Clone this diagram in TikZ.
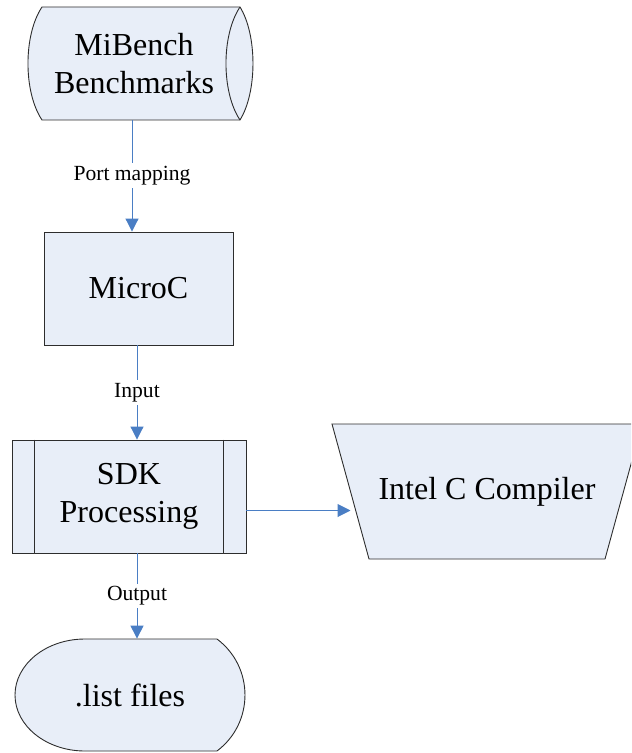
\documentclass[tikz,border=0pt]{standalone}
\usepackage{fontspec}
\setmainfont{Liberation Serif}
\usetikzlibrary{arrows.meta}
\definecolor{boxfill}{RGB}{232,238,248}
\definecolor{flowblue}{RGB}{74,126,196}
\definecolor{edgegray}{RGB}{45,45,45}

\begin{document}
\begin{tikzpicture}[x=0.5pt, y=-0.5pt,
		shp/.style={draw=edgegray, fill=boxfill, line width=0.45pt},
		txt/.style={inner sep=0pt, align=center, font=\fontsize{16}{19}\selectfont},
		flow/.style={draw=flowblue, line width=0.5pt, -{Triangle[length=6.5pt,width=6.5pt]}},
		lbl/.style={fill=white, inner sep=1.5pt, font=\fontsize{10.8}{12}\selectfont}]
	\useasboundingbox (0,0) rectangle (631,753);
	\clip (0,0) rectangle (631,753);
	
	% benchmarks
	\filldraw[shp] (42,7) -- (240,7) .. controls (257.3,35) and (257.3,92) .. (240,120)
		-- (42,120) .. controls (23.3,92) and (23.3,35) .. cycle;
	\draw[shp, fill=none] (240,7) .. controls (221.3,35) and (221.3,92) .. (240,120);
	\node[txt, minimum width=106pt, minimum height=56.5pt] (bench) at (134,63.5) {MiBench\\Benchmarks};
	
	% microc
	\node[shp, txt, minimum width=94.5pt, minimum height=56.5pt] (micro) at (138.5,288.5) {MicroC};
	
	% sdk
	\node[shp, txt, minimum width=117pt, minimum height=56.5pt] (sdk) at (129,496.5) {SDK\\Processing};
	\draw[shp] ([xshift=11.5pt]sdk.north west) -- ([xshift=11.5pt]sdk.south west);
	\draw[shp] ([xshift=-11.5pt]sdk.north east) -- ([xshift=-11.5pt]sdk.south east);
	
	% compiler
	\filldraw[shp] (332,424) -- (642,424) -- (605,559) -- (369,559) -- cycle;
	\node[txt] (icc) at (487,491.5) {Intel C Compiler};
	\coordinate (iccin) at (350.5,510.5);
	
	% list files
	\filldraw[shp] (85,639) -- (217,639) .. controls (254.3,667) and (254.3,723) .. (217,751)
		-- (85,751) .. controls (46.3,751) and (15,725.9) .. (15,695)
		.. controls (15,664.1) and (46.3,639) .. cycle;
	\node[txt, minimum width=115pt, minimum height=56pt] (list) at (130,695) {.list files};
	
	% connectors
	\draw[flow] ([xshift=-1pt]bench.south) -- node[lbl] (port) {Port mapping} ([xshift=-1pt]bench.south |- micro.north);
	\draw[flow] ([xshift=-0.75pt]micro.south) -- node[lbl] (inp) {Input} ([xshift=-0.75pt]micro.south |- sdk.north);
	\draw[flow] ([xshift=-0.75pt]micro.south |- sdk.south) -- node[lbl] (outp) {Output} ([xshift=-0.75pt]micro.south |- list.north);
	\draw[flow] (iccin -| sdk.east) -- (iccin);
\end{tikzpicture}
\end{document}
